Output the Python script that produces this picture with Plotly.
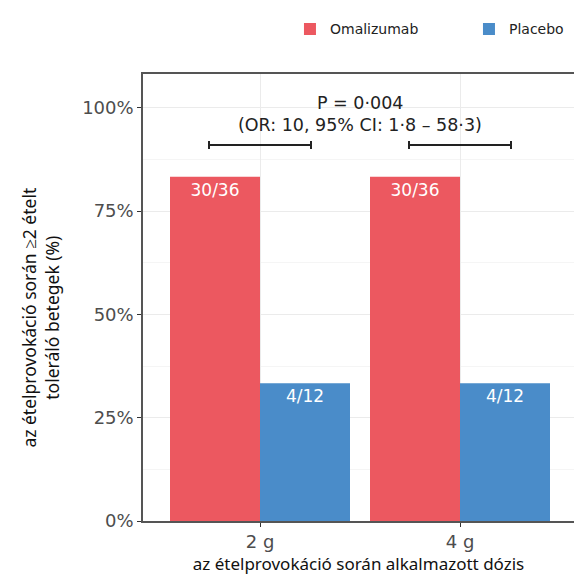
import plotly.graph_objects as go

categories = ["2 g", "4 g"]
omalizumab = [30 / 36 * 100, 30 / 36 * 100]
placebo = [4 / 12 * 100, 4 / 12 * 100]
omalizumab_labels = ["30/36", "30/36"]
placebo_labels = ["4/12", "4/12"]
ci_level = [91, 91]
y_ticks = [0, 25, 50, 75, 100]
y_ticklabels = ["0%", "25%", "50%", "75%", "100%"]

RED = "#EC5860"
BLUE = "#4A8CC9"
SANS = "DejaVu Sans"
xpos = list(range(len(categories)))

fig = go.Figure()
fig.add_trace(go.Bar(
    x=xpos, y=omalizumab, name="Omalizumab", marker_color=RED,
    text=omalizumab_labels, textposition="inside", insidetextanchor="end",
    textfont=dict(color="white", size=17, family=SANS),
    marker_line_width=0,
))
fig.add_trace(go.Bar(
    x=xpos, y=placebo, name="Placebo", marker_color=BLUE,
    text=placebo_labels, textposition="inside", insidetextanchor="end",
    textfont=dict(color="white", size=17, family=SANS),
    marker_line_width=0,
))
fig.add_trace(go.Scatter(
    x=xpos, y=ci_level, mode="markers", marker=dict(size=1, color="rgba(0,0,0,0)"),
    error_x=dict(type="constant", value=0.255, color="#222222", thickness=2, width=4),
    showlegend=False, hoverinfo="skip",
))

fig.add_annotation(x=0.5, y=101.2, xref="x", yref="y", text="P = 0·004",
                   showarrow=False, font=dict(size=17.5, color="#222222", family=SANS))
fig.add_annotation(x=0.5, y=95.9, xref="x", yref="y", text="(OR: 10, 95% CI: 1·8 – 58·3)",
                   showarrow=False, font=dict(size=17.5, color="#222222", family=SANS))

# y-axis title placed as rotated annotation
fig.add_annotation(x=-0.2367, y=0.455, xref="paper", yref="paper",
                   text="az ételprovokáció során ≥2 ételt<br>toleráló betegek (%)",
                   textangle=-90, showarrow=False, xanchor="center", yanchor="middle",
                   font=dict(size=17.5, family="Noto Sans", color="#111111"))

fig.update_layout(
    width=574, height=583,
    margin=dict(l=143, r=0, t=74, b=62, autoexpand=False),
    paper_bgcolor="white", plot_bgcolor="white",
    barmode="group", bargap=0.1, bargroupgap=0,
    font=dict(family=SANS, color="#222222"),
    legend=dict(orientation="h", x=0.341, xanchor="left", y=1.10, yanchor="middle",
                font=dict(size=14, color="#222222", family=SANS),
                entrywidth=134, entrywidthmode="pixels"),
    showlegend=True,
)
fig.update_xaxes(
    range=[-0.585, 1.57], tickvals=xpos, ticktext=categories,
    tickfont=dict(size=18, color="#4D4D4D", family=SANS),
    showgrid=True, gridcolor="#EBEBEB", gridwidth=1,
    showline=True, linecolor="#555555", linewidth=1.5, mirror=True,
    ticks="outside", ticklen=4, tickcolor="#333333",
    title=dict(text="az ételprovokáció során alkalmazott dózis",
               font=dict(size=17, family="Noto Sans", color="#111111"), standoff=2),
    zeroline=False,
)
fig.update_yaxes(
    range=[0, 108.2], tickvals=y_ticks, ticktext=y_ticklabels,
    tickfont=dict(size=18, color="#4D4D4D", family=SANS),
    showgrid=True, gridcolor="#EBEBEB", gridwidth=1,
    minor=dict(dtick=12.5, showgrid=True, gridcolor="#F5F5F5", gridwidth=1),
    showline=True, linecolor="#555555", linewidth=1.5,
    ticks="outside", ticklen=4, tickcolor="#333333",
    zeroline=False,
)

fig.write_html("out.html", config={"displayModeBar": False},
               post_script="document.body.style.margin='0';")
